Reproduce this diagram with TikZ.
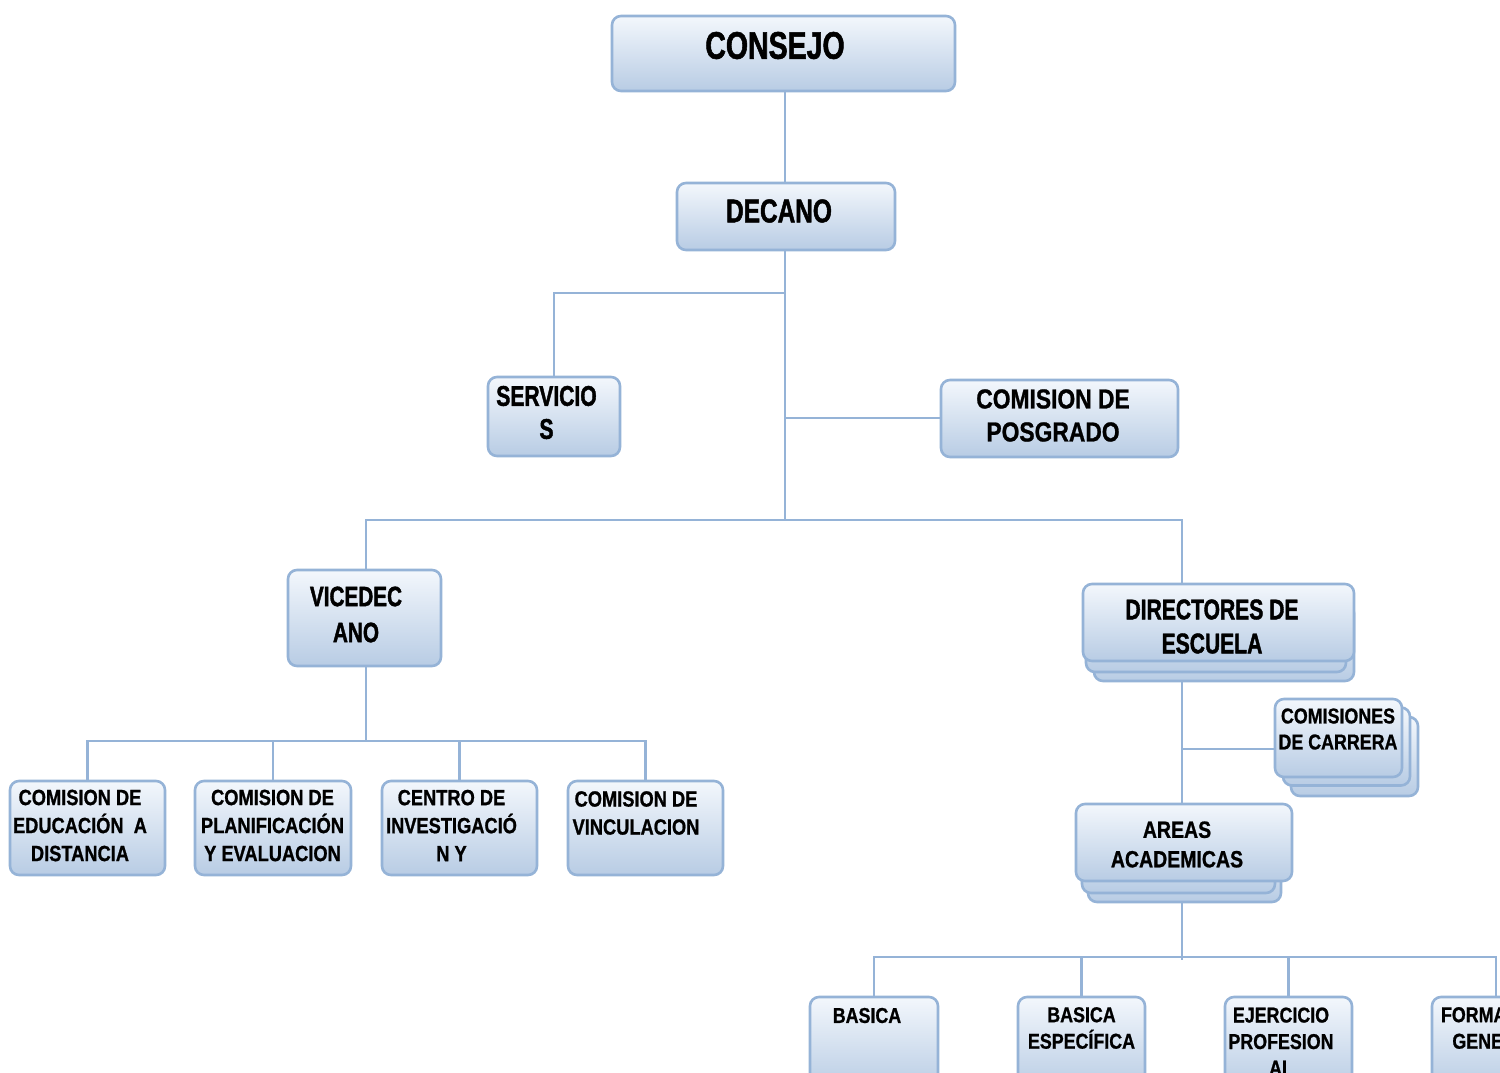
\documentclass[tikz,border=0pt]{standalone}
\usepackage{fontspec}
\newfontfamily\fb{Liberation Sans}[FakeStretch=0.74,FakeBold=1.4]
\newfontfamily\fm{Liberation Sans}[FakeStretch=0.83,FakeBold=0.9]
\definecolor{ln}{HTML}{95B3D7}
\definecolor{topc}{HTML}{F3F7FC}
\definecolor{botc}{HTML}{B8CCE4}
\tikzset{
  box/.style={draw=ln, line width=2.6pt, rounded corners=9pt, top color=topc, bottom color=botc, inner sep=0pt},
  conn/.style={draw=ln, line width=2.6pt},
  tb/.style 2 args={font={\fb\bfseries\fontsize{#1}{#2}\selectfont}, align=center, inner sep=0pt, text=black},
  tm/.style 2 args={font={\fm\bfseries\fontsize{#1}{#2}\selectfont}, align=center, inner sep=0pt, text=black},
}
\begin{document}
\begin{tikzpicture}[x=1pt,y=-1pt]
\fill[white] (0,0) rectangle (1500,1072);
\useasboundingbox (0,0) rectangle (1500,1072);
\clip (0,0) rectangle (1500,1072);

% ---- boxes ----
\node[box, minimum width=343pt, minimum height=75pt] (consejo) at (783.5,53.5) {};
\node[tb={38.5}{40}] (consejo-t) at (775,45.5) {CONSEJO};

\node[box, minimum width=218pt, minimum height=67pt] (decano) at (786,216.5) {};
\node[tb={33}{36}] (decano-t) at (779,211) {DECANO};

\node[box, minimum width=132pt, minimum height=79pt] (servicios) at (554,416.5) {};
\node[tb={28.5}{33}] (servicios-t) at (546.5,412.5) {SERVICIO\\S};

\node[box, minimum width=237pt, minimum height=77pt] (posgrado) at (1059.5,418.5) {};
\node[tm={27.5}{33}] (posgrado-t) at (1053,415.5) {COMISION DE\\POSGRADO};

\node[box, minimum width=153pt, minimum height=96pt] (vicedecano) at (364.5,618) {};
\node[tb={28}{36}] (vicedecano-t) at (356,614.5) {VICEDEC\\ANO};

\node[box, minimum width=260pt, minimum height=77pt] (dir3) at (1224,642.5) {};
\node[box, minimum width=260pt, minimum height=77pt] (dir2) at (1216,633.5) {};
\node[box, minimum width=271pt, minimum height=77pt] (dir1) at (1218.5,622.5) {};
\node[tb={28.5}{34}] (dir-t) at (1212,626.5) {DIRECTORES DE\\ESCUELA};

\node[box, minimum width=127pt, minimum height=79pt] (com3) at (1354.5,756.5) {};
\node[box, minimum width=127pt, minimum height=78pt] (com2) at (1346.5,746.5) {};
\node[box, minimum width=127pt, minimum height=78pt] (com1) at (1338.5,738) {};
\node[tm={21.5}{26}] (com-t) at (1338,729) {COMISIONES\\DE CARRERA};

\node[box, minimum width=193pt, minimum height=76pt] (areas3) at (1184.5,864) {};
\node[box, minimum width=193pt, minimum height=76pt] (areas2) at (1178.5,855) {};
\node[box, minimum width=216pt, minimum height=77pt] (areas1) at (1184,842.5) {};
\node[tm={23.5}{29.5}] (areas-t) at (1177,844.5) {AREAS\\ACADEMICAS};

\node[box, minimum width=155pt, minimum height=94pt] (bl1) at (87.5,828) {};
\node[tm={22}{28}] (bl1-t) at (80,825.5) {COMISION DE\\EDUCACIÓN\ \ A\\DISTANCIA};
\node[box, minimum width=156pt, minimum height=94pt] (bl2) at (273,828) {};
\node[tm={22}{28}] (bl2-t) at (272.5,825.5) {COMISION DE\\PLANIFICACIÓN\\Y EVALUACION};
\node[box, minimum width=155pt, minimum height=94pt] (bl3) at (459.5,828) {};
\node[tm={22}{28}] (bl3-t) at (451.5,825.5) {CENTRO DE\\INVESTIGACIÓ\\N Y};
\node[box, minimum width=155pt, minimum height=94pt] (bl4) at (645.5,828) {};
\node[tm={22}{28}] (bl4-t) at (636,813) {COMISION DE\\VINCULACION};

\node[box, minimum width=128pt, minimum height=93pt] (br1) at (874,1043.5) {};
\node[tm={21.5}{26.5}] (br1-t) at (867,1015.5) {BASICA};
\node[box, minimum width=127pt, minimum height=93pt] (br2) at (1081.5,1043.5) {};
\node[tm={21.5}{26.5}] (br2-t) at (1081.5,1028) {BASICA\\ESPECÍFICA};
\node[box, minimum width=127pt, minimum height=93pt] (br3) at (1288.5,1043.5) {};
\node[tm={21.5}{26.5}] (br3-t) at (1281,1041.5) {EJERCICIO\\PROFESION\\AL};
\node[box, minimum width=128pt, minimum height=93pt] (br4) at (1496,1043.5) {};
\node[tm={21.5}{26.5}] (br4-t) at (1496,1028) {FORMACION\\GENERAL};

% ---- connectors ----
\coordinate (tr) at (785,520);
\coordinate (js) at (785,293);
\coordinate (jp) at (785,418);
\coordinate (jv) at (366,520);
\coordinate (jdir) at (1182,520);
\coordinate (jvb) at (366,741);
\coordinate (jd2) at (1182,749);
\coordinate (ja) at (1182,957);

\draw[conn] (consejo.south -| tr) -- (decano.north -| tr);
\draw[conn] (decano.south -| tr) -- (tr);
\draw[conn] (js) -| (servicios.north);
\draw[conn] (jp) -- (posgrado.west |- jp);
\draw[conn] (jv |- vicedecano.north) -- (jv) -- (jdir) -- (jdir |- dir1.north);

\draw[conn] (vicedecano.south -| jvb) -- (jvb);
\draw[conn] (bl1.north) |- (bl4.north |- jvb) -- (bl4.north);
\draw[conn] (bl2.north) -- (bl2.north |- jvb);
\draw[conn] (bl3.north) -- (bl3.north |- jvb);

\draw[conn] (dir3.south -| jd2) -- (areas1.north -| jd2);
\draw[conn] (jd2) -- (com1.west |- jd2);

\draw[conn] (areas3.south -| ja) -- ([yshift=-3pt]ja);
\draw[conn] (br1.north) |- (br4.north |- ja) -- (br4.north);
\draw[conn] (br2.north) -- (br2.north |- ja);
\draw[conn] (br3.north) -- (br3.north |- ja);
\end{tikzpicture}
\end{document}
